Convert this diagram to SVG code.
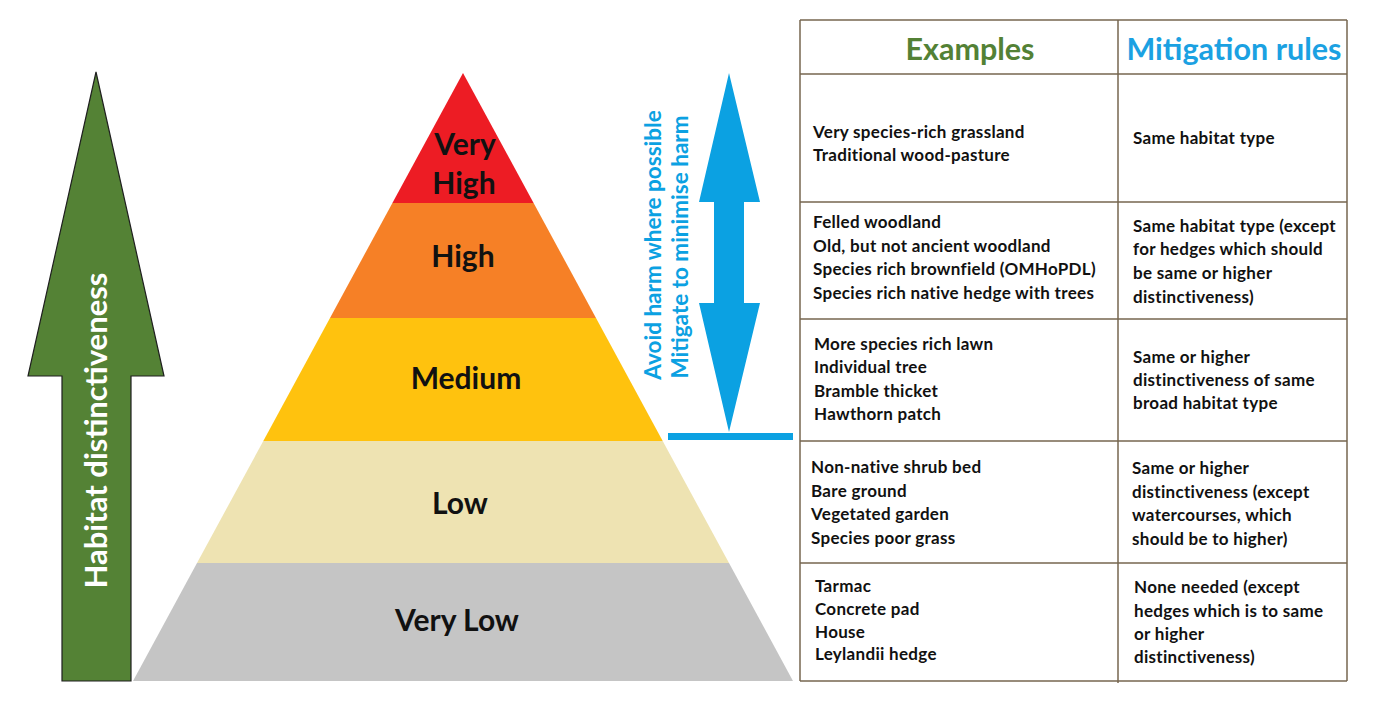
<svg xmlns="http://www.w3.org/2000/svg" width="1379" height="702" viewBox="0 0 1379 702">
<style>
.lbl{font-family:Lato,"Open Sans","Liberation Sans",sans-serif;font-weight:700;font-size:30px;fill:#111;text-anchor:middle}
.cell{font-family:Lato,"Open Sans","Liberation Sans",sans-serif;font-weight:700;font-size:17px;letter-spacing:0.3px;fill:#111}
.hdr{font-family:Lato,"Open Sans","Liberation Sans",sans-serif;font-weight:700;font-size:30.5px;text-anchor:middle}
.blue{font-family:Lato,"Open Sans","Liberation Sans",sans-serif;font-weight:700;font-size:22.5px;fill:#0BA1E2;text-anchor:middle}
.grid{stroke:#76664F;stroke-width:1.5;fill:none}
</style>
<rect width="1379" height="702" fill="#fff"/>
<g id="habitat-arrow">
<polygon points="96,72 164,376 131,376 131,681 62,681 62,376 28,376" fill="#548235" stroke="#1f1f1f" stroke-width="1.2"/>
<text transform="translate(107,430.5) rotate(-90)" font-family="Lato,'Open Sans','Liberation Sans',sans-serif" font-weight="700" font-size="31" fill="#fff" text-anchor="middle">Habitat distinctiveness</text>
</g>
<g id="pyramid">
<g id="very-high"><polygon points="463,73 533.6,203 392.4,203" fill="#ED1C24"/><text class="lbl" x="465" y="155">Very</text><text class="lbl" x="464" y="194">High</text></g>
<g id="high"><polygon points="392.4,203 533.6,203 596,318 330,318" fill="#F68026"/><text class="lbl" x="463" y="267">High</text></g>
<g id="medium"><polygon points="330,318 596,318 662.7,441 263.3,441" fill="#FFC20E"/><text class="lbl" x="466" y="389">Medium</text></g>
<g id="low"><polygon points="263.3,441 662.7,441 729,563 197,563" fill="#EEE3B2"/><text class="lbl" x="460" y="514">Low</text></g>
<g id="very-low"><polygon points="197,563 729,563 793,681 133,681" fill="#C5C5C5"/><text class="lbl" x="457" y="631">Very Low</text></g>
</g>
<g id="mitigation-arrow">
<polygon points="729,73 760,202 744,202 744,303 760,303 729,432 699,303 714,303 714,202 699,202" fill="#0BA1E2"/>
<rect x="668" y="433" width="125" height="7" fill="#0BA1E2"/>
<text class="blue" transform="translate(661,245) rotate(-90)">Avoid harm where possible</text>
<text class="blue" transform="translate(688,247) rotate(-90)">Mitigate to minimise harm</text>
</g>
<g id="table">
<g class="grid">
<line x1="800" y1="20" x2="1347" y2="20"/>
<line x1="800" y1="74" x2="1347" y2="74"/>
<line x1="800" y1="202" x2="1347" y2="202"/>
<line x1="800" y1="319" x2="1347" y2="319"/>
<line x1="800" y1="441" x2="1347" y2="441"/>
<line x1="800" y1="563" x2="1347" y2="563"/>
<line x1="800" y1="681" x2="1347" y2="681"/>
<line x1="800" y1="20" x2="800" y2="681"/>
<line x1="1118" y1="20" x2="1118" y2="683"/>
<line x1="1347" y1="20" x2="1347" y2="681"/>
</g>
<text class="hdr" x="970" y="60" fill="#538135">Examples</text>
<text class="hdr" x="1234" y="60" fill="#1BA1E2">Mitigation rules</text>
<g id="row-very-high">
<text class="cell" x="813" y="138">Very species-rich grassland</text>
<text class="cell" x="813" y="161">Traditional wood-pasture</text>
<text class="cell" x="1133" y="144">Same habitat type</text>
</g>
<g id="row-high">
<text class="cell" x="813" y="228">Felled woodland</text>
<text class="cell" x="813" y="252">Old, but not ancient woodland</text>
<text class="cell" x="813" y="275">Species rich brownfield (OMHoPDL)</text>
<text class="cell" x="813" y="299">Species rich native hedge with trees</text>
<text class="cell" x="1133" y="232">Same habitat type (except</text>
<text class="cell" x="1133" y="255">for hedges which should</text>
<text class="cell" x="1133" y="279">be same or higher</text>
<text class="cell" x="1133" y="303">distinctiveness)</text>
</g>
<g id="row-medium">
<text class="cell" x="814" y="350">More species rich lawn</text>
<text class="cell" x="814" y="373">Individual tree</text>
<text class="cell" x="814" y="397">Bramble thicket</text>
<text class="cell" x="814" y="420">Hawthorn patch</text>
<text class="cell" x="1133" y="363">Same or higher</text>
<text class="cell" x="1133" y="386">distinctiveness of same</text>
<text class="cell" x="1133" y="409">broad habitat type</text>
</g>
<g id="row-low">
<text class="cell" x="811" y="473">Non-native shrub bed</text>
<text class="cell" x="811" y="497">Bare ground</text>
<text class="cell" x="811" y="520">Vegetated garden</text>
<text class="cell" x="811" y="544">Species poor grass</text>
<text class="cell" x="1132" y="474">Same or higher</text>
<text class="cell" x="1132" y="498">distinctiveness (except</text>
<text class="cell" x="1132" y="521">watercourses, which</text>
<text class="cell" x="1132" y="545">should be to higher)</text>
</g>
<g id="row-very-low">
<text class="cell" x="815" y="592">Tarmac</text>
<text class="cell" x="815" y="615">Concrete pad</text>
<text class="cell" x="815" y="638">House</text>
<text class="cell" x="815" y="660">Leylandii hedge</text>
<text class="cell" x="1134" y="593">None needed (except</text>
<text class="cell" x="1134" y="617">hedges which is to same</text>
<text class="cell" x="1134" y="640">or higher</text>
<text class="cell" x="1134" y="663">distinctiveness)</text>
</g>
</g>
</svg>
